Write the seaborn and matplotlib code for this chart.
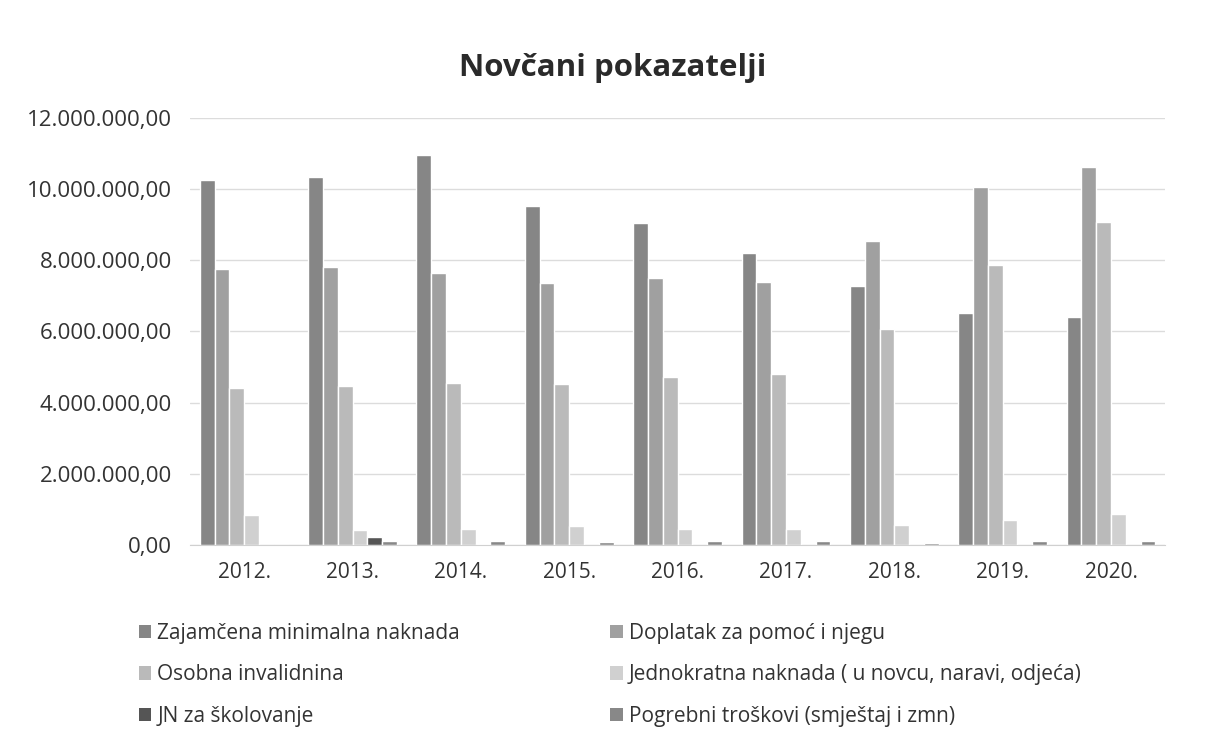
import pandas as pd
import numpy as np
import matplotlib.pyplot as plt
import seaborn as sns
from matplotlib.ticker import FuncFormatter, MultipleLocator
from matplotlib.patches import Patch

# godine i serije (vrijednosti ocitane s grafa)
years = ['2012.', '2013.', '2014.', '2015.', '2016.', '2017.', '2018.', '2019.', '2020.']
series = ['Zajamčena minimalna naknada', 'Doplatak za pomoć i njegu', 'Osobna invalidnina',
          'Jednokratna naknada ( u novcu, naravi, odjeća)', 'JN za školovanje',
          'Pogrebni troškovi (smještaj i zmn)']

zmn = [10.26e6, 10.33e6, 10.96e6, 9.53e6, 9.06e6, 8.20e6, 7.28e6, 6.53e6, 6.40e6]
doplatak = [7.77e6, 7.82e6, 7.63e6, 7.35e6, 7.51e6, 7.40e6, 8.53e6, 10.05e6, 10.61e6]
invalidnina = [4.42e6, 4.47e6, 4.54e6, 4.53e6, 4.71e6, 4.81e6, 6.06e6, 7.86e6, 9.09e6]
jednokratna = [0.85e6, 0.42e6, 0.45e6, 0.54e6, 0.44e6, 0.45e6, 0.56e6, 0.70e6, 0.87e6]
skolovanje = [0.0, 0.22e6, 0.02e6, 0.0, 0.0, 0.0, 0.0, 0.0, 0.0]
pogrebni = [0.0, 0.12e6, 0.12e6, 0.09e6, 0.10e6, 0.10e6, 0.06e6, 0.11e6, 0.10e6]

colors = ['#868686', '#a0a0a0', '#bababa', '#d0d0d0', '#555555', '#888888']

values = [zmn, doplatak, invalidnina, jednokratna, skolovanje, pogrebni]
rows = []
for name, vals in zip(series, values):
    for y, v in zip(years, vals):
        rows.append({'Godina': y, 'Serija': name, 'Iznos': v})
df = pd.DataFrame(rows)

sns.set_style('white')
plt.rcParams['font.family'] = ['Open Sans', 'DejaVu Sans']

fig = plt.figure(figsize=(12.1, 7.44), dpi=100)
ax = fig.add_axes([0.157, 0.2675, 0.806, 0.5739])

sns.barplot(data=df, x='Godina', y='Iznos', hue='Serija', hue_order=series,
            order=years, palette=colors, width=0.82, edgecolor='white', linewidth=1,
            legend=False, ax=ax)

ax.set_ylim(0, 12e6)
ax.yaxis.set_major_locator(MultipleLocator(2e6))


def hr_format(v, pos):
    s = f"{v:,.2f}"
    return s.replace(',', 'X').replace('.', ',').replace('X', '.')


ax.yaxis.set_major_formatter(FuncFormatter(hr_format))
ax.grid(axis='y', color='#dcdcdc', linewidth=1)
ax.set_axisbelow(True)
for side in ['left', 'right', 'top']:
    ax.spines[side].set_visible(False)
ax.spines['bottom'].set_color('#d0d0d0')
ax.set_xlabel('')
ax.set_ylabel('')
ax.tick_params(axis='both', length=0, labelsize=15, labelcolor='#333333')
ax.tick_params(axis='y', labelsize=16, pad=13)
ax.tick_params(axis='x', pad=12)

fig.text(0.506, 0.909, 'Novčani pokazatelji', ha='center', va='center',
         fontsize=22.5, fontweight='bold', color='#2a2a2a')

handles = [Patch(facecolor=c, edgecolor='none') for c in colors]
order = [0, 2, 4, 1, 3, 5]
fig.legend([handles[i] for i in order], [series[i] for i in order], ncol=2,
           loc='upper left', bbox_to_anchor=(0.099, 0.188), frameon=False,
           fontsize=15, handlelength=0.6, handleheight=0.6, handletextpad=0.3,
           columnspacing=7.2, labelspacing=0.98, labelcolor='#333333')

plt.savefig('out.png', dpi=100)
